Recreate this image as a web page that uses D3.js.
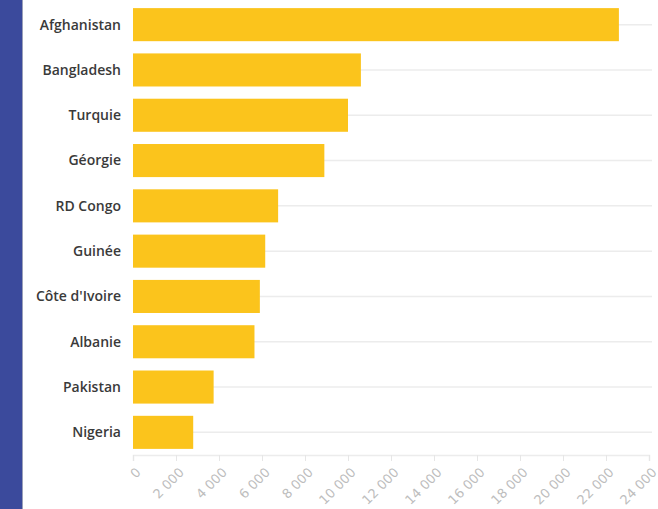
<!DOCTYPE html>
<html>
<head>
<meta charset="utf-8">
<script src="https://cdn.jsdelivr.net/npm/d3@7"></script>
<style>
  body { margin: 0; background: #fff; }
  svg { display: block; }
</style>
</head>
<body>
<svg class="plot" width="658" height="509"></svg>
<script>
  var width = 658
  var height = 509
  const countries = ["Afghanistan", "Bangladesh", "Turquie", "Géorgie", "RD Congo", "Guinée", "Côte d'Ivoire", "Albanie", "Pakistan", "Nigeria"]
  const values = [22600, 10600, 10000, 8900, 6750, 6150, 5900, 5650, 3750, 2800]
  const ticks = [0, 2000, 4000, 6000, 8000, 10000, 12000, 14000, 16000, 18000, 20000, 22000, 24000]

  const svg = d3.select("svg.plot")
  margin = { "top": 2, "right": 9, "bottom": 54, "left": 133 }

  // blue strip on the left
  svg.append("rect").attr("x", 0).attr("y", 0).attr("width", 22).attr("height", height).attr("fill", "#3b4a9c")
  svg.append("line").attr("x1", 22.5).attr("x2", 22.5).attr("y1", 0).attr("y2", height).attr("stroke", "#9aa0b8").attr("stroke-width", 1)

  const xScale = d3.scaleLinear().domain([0, 24000]).range([margin.left, width - margin.right])
  const yScale = d3.scaleBand().domain(countries).range([margin.top, height - margin.bottom]).paddingInner(0.27).paddingOuter(0.135)

  // gridlines through the category centres
  svg.append("g")
    .selectAll("line")
    .data(countries)
    .join("line")
    .attr("x1", margin.left)
    .attr("x2", width - margin.right + 3)
    .attr("y1", d => yScale(d) + yScale.bandwidth() / 2)
    .attr("y2", d => yScale(d) + yScale.bandwidth() / 2)
    .attr("stroke", "#ececec")
    .attr("stroke-width", 1.5)

  // baseline + x axis
  let bottomAxis = d3.axisBottom(xScale).tickValues(ticks).tickSize(6).tickFormat(d => d3.format(",")(d).replace(/,/g, " "))
  const xg = svg.append("g")
    .attr("class", "x axis")
    .attr("transform", "translate(0," + (height - margin.bottom) + ")")
    .call(bottomAxis)
  xg.select(".domain").attr("stroke", "#ececec").attr("stroke-width", 1.5)
  xg.selectAll(".tick line").attr("stroke", "#e6e6e6")
  xg.selectAll(".tick text")
    .attr("fill", "#bdbdbd")
    .attr("font-family", "'DejaVu Sans', sans-serif")
    .attr("font-size", 13)
    .attr("text-anchor", "end")
    .attr("x", 0)
    .attr("y", 0)
    .attr("dy", "0.35em")
    .attr("transform", "translate(5,15) rotate(-45)")

  // bars
  svg.append("g")
    .selectAll("rect")
    .data(countries)
    .join("rect")
    .attr("x", xScale(0))
    .attr("y", d => yScale(d))
    .attr("height", yScale.bandwidth())
    .attr("width", (d, i) => xScale(values[i]) - xScale(0))
    .attr("fill", "#fbc41c")

  // category labels
  svg.append("g")
    .selectAll("text")
    .data(countries)
    .join("text")
    .attr("x", 121)
    .attr("y", d => yScale(d) + yScale.bandwidth() / 2)
    .attr("dy", "0.35em")
    .attr("text-anchor", "end")
    .attr("font-family", "'Open Sans', sans-serif")
    .attr("font-weight", 600)
    .attr("font-size", 14)
    .attr("fill", "#3a3a3a")
    .text(d => d)
</script>
</body>
</html>
